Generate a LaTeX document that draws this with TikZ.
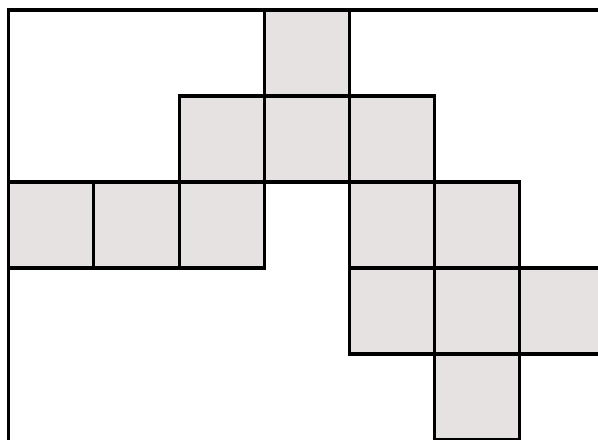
\documentclass[tikz,border=0pt]{standalone}
\usepackage{xcolor}
\usepackage{tikz}
\definecolor{cellgray}{HTML}{E6E2E2}

\begin{document}
\begin{tikzpicture}[cell/.style={fill=cellgray, draw=black, line width=0.9pt}]
  \useasboundingbox (0,0) rectangle (5.98,4.39);
  \begin{scope}[shift={(0.087,4.29)}, x=0.852cm, y=-0.86cm]
    % gray squares (column, row), row 0 at the top
    \foreach \c/\r in {3/0, 2/1, 3/1, 4/1, 0/2, 1/2, 2/2, 4/2, 5/2, 4/3, 5/3, 6/3, 5/4}
      \draw[cell] (\c,\r) rectangle ++(1,1);
    % outer frame
    \draw[line width=0.9pt] (0,5.2) -- (0,0) -- (7.2,0);
  \end{scope}
\end{tikzpicture}
\end{document}
